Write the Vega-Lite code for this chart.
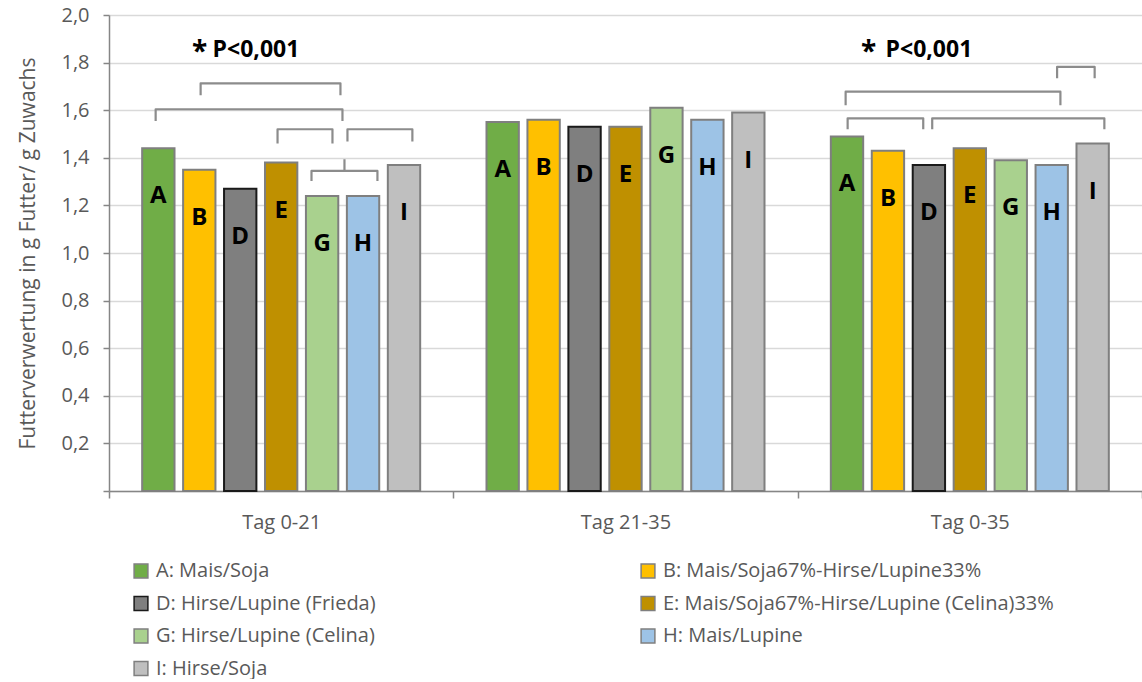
{
  "$schema": "https://vega.github.io/schema/vega-lite/v6.json",
  "width": 1033,
  "height": 476,
  "padding": {"left": 17, "right": 0, "top": 5, "bottom": 0},
  "background": "white",
  "config": {
    "view": {"stroke": null},
    "font": "Open Sans",
    "axis": {"labelFont": "Open Sans", "titleFont": "Open Sans"},
    "legend": {"labelFont": "Open Sans"}
  },
  "datasets": {
    "bars": [
      {"group": "Tag 0-21", "sorte": "A: Mais/Soja", "letter": "A", "value": 1.44},
      {"group": "Tag 0-21", "sorte": "B: Mais/Soja67%-Hirse/Lupine33%", "letter": "B", "value": 1.35},
      {"group": "Tag 0-21", "sorte": "D: Hirse/Lupine (Frieda)", "letter": "D", "value": 1.27},
      {"group": "Tag 0-21", "sorte": "E: Mais/Soja67%-Hirse/Lupine (Celina)33%", "letter": "E", "value": 1.38},
      {"group": "Tag 0-21", "sorte": "G: Hirse/Lupine (Celina)", "letter": "G", "value": 1.24},
      {"group": "Tag 0-21", "sorte": "H: Mais/Lupine", "letter": "H", "value": 1.24},
      {"group": "Tag 0-21", "sorte": "I: Hirse/Soja", "letter": "I", "value": 1.37},
      {"group": "Tag 21-35", "sorte": "A: Mais/Soja", "letter": "A", "value": 1.55},
      {"group": "Tag 21-35", "sorte": "B: Mais/Soja67%-Hirse/Lupine33%", "letter": "B", "value": 1.56},
      {"group": "Tag 21-35", "sorte": "D: Hirse/Lupine (Frieda)", "letter": "D", "value": 1.53},
      {"group": "Tag 21-35", "sorte": "E: Mais/Soja67%-Hirse/Lupine (Celina)33%", "letter": "E", "value": 1.53},
      {"group": "Tag 21-35", "sorte": "G: Hirse/Lupine (Celina)", "letter": "G", "value": 1.61},
      {"group": "Tag 21-35", "sorte": "H: Mais/Lupine", "letter": "H", "value": 1.56},
      {"group": "Tag 21-35", "sorte": "I: Hirse/Soja", "letter": "I", "value": 1.59},
      {"group": "Tag 0-35", "sorte": "A: Mais/Soja", "letter": "A", "value": 1.49},
      {"group": "Tag 0-35", "sorte": "B: Mais/Soja67%-Hirse/Lupine33%", "letter": "B", "value": 1.43},
      {"group": "Tag 0-35", "sorte": "D: Hirse/Lupine (Frieda)", "letter": "D", "value": 1.37},
      {"group": "Tag 0-35", "sorte": "E: Mais/Soja67%-Hirse/Lupine (Celina)33%", "letter": "E", "value": 1.44},
      {"group": "Tag 0-35", "sorte": "G: Hirse/Lupine (Celina)", "letter": "G", "value": 1.39},
      {"group": "Tag 0-35", "sorte": "H: Mais/Lupine", "letter": "H", "value": 1.37},
      {"group": "Tag 0-35", "sorte": "I: Hirse/Soja", "letter": "I", "value": 1.46}
    ],
    "brackets": [
      {"group": "Tag 0-21", "id": "b1", "seq": 1, "pos": 1.033, "y": 1.663},
      {"group": "Tag 0-21", "id": "b1", "seq": 2, "pos": 1.033, "y": 1.713},
      {"group": "Tag 0-21", "id": "b1", "seq": 3, "pos": 4.447, "y": 1.713},
      {"group": "Tag 0-21", "id": "b1", "seq": 4, "pos": 4.447, "y": 1.663},
      {"group": "Tag 0-21", "id": "b2", "seq": 1, "pos": -0.065, "y": 1.555},
      {"group": "Tag 0-21", "id": "b2", "seq": 2, "pos": -0.065, "y": 1.604},
      {"group": "Tag 0-21", "id": "b2", "seq": 3, "pos": 4.496, "y": 1.604},
      {"group": "Tag 0-21", "id": "b2", "seq": 4, "pos": 4.496, "y": 1.555},
      {"group": "Tag 0-21", "id": "b3", "seq": 1, "pos": 2.911, "y": 1.46},
      {"group": "Tag 0-21", "id": "b3", "seq": 2, "pos": 2.911, "y": 1.52},
      {"group": "Tag 0-21", "id": "b3", "seq": 3, "pos": 4.252, "y": 1.52},
      {"group": "Tag 0-21", "id": "b3", "seq": 4, "pos": 4.252, "y": 1.46},
      {"group": "Tag 0-21", "id": "b4", "seq": 1, "pos": 4.618, "y": 1.469},
      {"group": "Tag 0-21", "id": "b4", "seq": 2, "pos": 4.618, "y": 1.52},
      {"group": "Tag 0-21", "id": "b4", "seq": 3, "pos": 6.203, "y": 1.52},
      {"group": "Tag 0-21", "id": "b4", "seq": 4, "pos": 6.203, "y": 1.469},
      {"group": "Tag 0-21", "id": "b5", "seq": 1, "pos": 3.74, "y": 1.303},
      {"group": "Tag 0-21", "id": "b5", "seq": 2, "pos": 3.74, "y": 1.345},
      {"group": "Tag 0-21", "id": "b5", "seq": 3, "pos": 5.35, "y": 1.345},
      {"group": "Tag 0-21", "id": "b5", "seq": 4, "pos": 5.35, "y": 1.303},
      {"group": "Tag 0-21", "id": "b6", "seq": 1, "pos": 4.545, "y": 1.345},
      {"group": "Tag 0-21", "id": "b6", "seq": 2, "pos": 4.545, "y": 1.394},
      {"group": "Tag 0-35", "id": "c1", "seq": 1, "pos": 5.13, "y": 1.734},
      {"group": "Tag 0-35", "id": "c1", "seq": 2, "pos": 5.13, "y": 1.782},
      {"group": "Tag 0-35", "id": "c1", "seq": 3, "pos": 6.047, "y": 1.782},
      {"group": "Tag 0-35", "id": "c1", "seq": 4, "pos": 6.047, "y": 1.734},
      {"group": "Tag 0-35", "id": "c2", "seq": 1, "pos": -0.033, "y": 1.621},
      {"group": "Tag 0-35", "id": "c2", "seq": 2, "pos": -0.033, "y": 1.678},
      {"group": "Tag 0-35", "id": "c2", "seq": 3, "pos": 5.211, "y": 1.678},
      {"group": "Tag 0-35", "id": "c2", "seq": 4, "pos": 5.211, "y": 1.621},
      {"group": "Tag 0-35", "id": "c3", "seq": 1, "pos": 0.016, "y": 1.52},
      {"group": "Tag 0-35", "id": "c3", "seq": 2, "pos": 0.016, "y": 1.566},
      {"group": "Tag 0-35", "id": "c3", "seq": 3, "pos": 1.862, "y": 1.566},
      {"group": "Tag 0-35", "id": "c3", "seq": 4, "pos": 1.862, "y": 1.52},
      {"group": "Tag 0-35", "id": "c4", "seq": 1, "pos": 2.081, "y": 1.52},
      {"group": "Tag 0-35", "id": "c4", "seq": 2, "pos": 2.081, "y": 1.566},
      {"group": "Tag 0-35", "id": "c4", "seq": 3, "pos": 6.284, "y": 1.566},
      {"group": "Tag 0-35", "id": "c4", "seq": 4, "pos": 6.284, "y": 1.52}
    ],
    "notes": [
      {"group": "Tag 0-21", "kind": "star", "pos": 1.008, "y": 1.824, "label": "*"},
      {"group": "Tag 0-21", "kind": "p", "pos": 1.325, "y": 1.824, "label": "P<0,001"},
      {"group": "Tag 0-35", "kind": "star", "pos": 0.528, "y": 1.824, "label": "*"},
      {"group": "Tag 0-35", "kind": "p", "pos": 0.942, "y": 1.824, "label": "P<0,001"}
    ]
  },
  "encoding": {
    "x": {
      "field": "group",
      "type": "nominal",
      "sort": ["Tag 0-21", "Tag 21-35", "Tag 0-35"],
      "scale": {"paddingInner": 0, "paddingOuter": 0},
      "axis": {
        "title": null,
        "labelAngle": 0,
        "labelFontSize": 20,
        "labelColor": "#595959",
        "labelPadding": 14,
        "tickBand": "extent",
        "tickSize": 7,
        "tickColor": "#868686",
        "tickWidth": 1.5,
        "domainColor": "#868686",
        "domainWidth": 1.5
      }
    }
  },
  "layer": [
    {
      "data": {"name": "bars"},
      "encoding": {
        "xOffset": {
          "field": "sorte",
          "type": "nominal",
          "scale": {"type": "band", "paddingInner": 0.21, "paddingOuter": 0.81}
        },
        "y": {
          "field": "value",
          "type": "quantitative",
          "scale": {"domain": [0, 2], "nice": false},
          "axis": {
            "title": "Futterverwertung in g Futter/ g Zuwachs",
            "titleFontSize": 21,
            "titleFontWeight": "normal",
            "titleColor": "#595959",
            "titlePadding": 22,
            "values": [0, 0.2, 0.4, 0.6, 0.8, 1.0, 1.2, 1.4, 1.6, 1.8, 2.0],
            "labelExpr": "datum.value == 0 ? '' : replace(format(datum.value, '.1f'), '.', ',')",
            "labelFontSize": 20,
            "labelColor": "#595959",
            "labelPadding": 14,
            "tickSize": 6,
            "tickColor": "#868686",
            "tickWidth": 1.5,
            "domainColor": "#868686",
            "domainWidth": 1.5,
            "gridColor": "#d9d9d9",
            "gridWidth": 1.5
          }
        }
      },
      "layer": [
        {
          "mark": {"type": "bar", "strokeWidth": 2},
          "encoding": {
            "fill": {
              "field": "sorte",
              "type": "nominal",
              "scale": {
                "domain": ["A: Mais/Soja", "B: Mais/Soja67%-Hirse/Lupine33%", "D: Hirse/Lupine (Frieda)", "E: Mais/Soja67%-Hirse/Lupine (Celina)33%", "G: Hirse/Lupine (Celina)", "H: Mais/Lupine", "I: Hirse/Soja"],
                "range": ["#70ad47", "#ffc000", "#7f7f7f", "#bf9000", "#a9d18e", "#9dc3e6", "#bfbfbf"]
              },
              "legend": {
                "title": null,
                "orient": "none",
                "direction": "horizontal",
                "legendX": 22,
                "legendY": 546,
                "columns": 2,
                "columnPadding": 262,
                "rowPadding": 12.5,
                "symbolType": "square",
                "symbolSize": 190,
                "symbolStrokeWidth": 1.5,
                "labelFontSize": 20,
                "labelColor": "#595959",
                "labelOffset": 5,
                "labelLimit": 600
              }
            },
            "stroke": {
              "field": "sorte",
              "type": "nominal",
              "scale": {
                "domain": ["A: Mais/Soja", "B: Mais/Soja67%-Hirse/Lupine33%", "D: Hirse/Lupine (Frieda)", "E: Mais/Soja67%-Hirse/Lupine (Celina)33%", "G: Hirse/Lupine (Celina)", "H: Mais/Lupine", "I: Hirse/Soja"],
                "range": ["#7f7f7f", "#7f7f7f", "#1a1a1a", "#7f7f7f", "#7f7f7f", "#7f7f7f", "#7f7f7f"]
              },
              "legend": {
                "title": null,
                "orient": "none",
                "direction": "horizontal",
                "legendX": 22,
                "legendY": 546,
                "columns": 2,
                "columnPadding": 262,
                "rowPadding": 12.5,
                "symbolType": "square",
                "symbolSize": 190,
                "symbolStrokeWidth": 1.5,
                "labelFontSize": 20,
                "labelColor": "#595959",
                "labelOffset": 5,
                "labelLimit": 600
              }
            }
          }
        },
        {
          "mark": {"type": "text", "fontSize": 24, "fontWeight": "bold", "color": "black", "baseline": "middle", "dy": 48},
          "encoding": {
            "text": {"field": "letter"}
          }
        }
      ]
    },
    {
      "data": {"name": "brackets"},
      "mark": {"type": "line", "color": "#8c8c8c", "strokeWidth": 2.2, "strokeJoin": "round"},
      "encoding": {
        "xOffset": {"field": "pos", "type": "quantitative", "scale": {"domain": [-1.204, 7.203], "zero": false, "nice": false}},
        "y": {"field": "y", "type": "quantitative"},
        "detail": {"field": "id"},
        "order": {"field": "seq"}
      }
    },
    {
      "data": {"name": "notes"},
      "transform": [{"filter": "datum.kind == 'star'"}],
      "mark": {"type": "text", "fontSize": 28, "fontWeight": "bold", "color": "black", "align": "center", "baseline": "alphabetic", "dy": 4},
      "encoding": {
        "xOffset": {"field": "pos", "type": "quantitative", "scale": {"domain": [-1.204, 7.203], "zero": false, "nice": false}},
        "y": {"field": "y", "type": "quantitative"},
        "text": {"field": "label"}
      }
    },
    {
      "data": {"name": "notes"},
      "transform": [{"filter": "datum.kind == 'p'"}],
      "mark": {"type": "text", "fontSize": 23, "fontWeight": "bold", "color": "black", "align": "left", "baseline": "alphabetic"},
      "encoding": {
        "xOffset": {"field": "pos", "type": "quantitative", "scale": {"domain": [-1.204, 7.203], "zero": false, "nice": false}},
        "y": {"field": "y", "type": "quantitative"},
        "text": {"field": "label"}
      }
    }
  ],
  "resolve": {"scale": {"xOffset": "independent"}}
}
